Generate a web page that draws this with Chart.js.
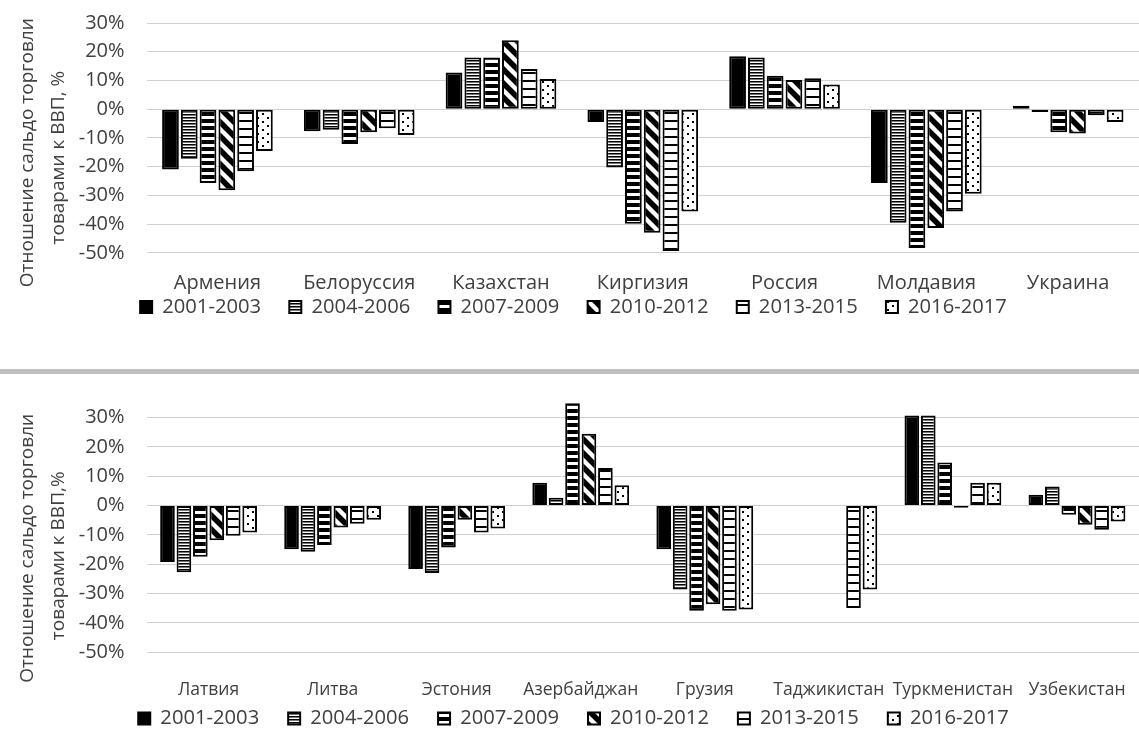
<!DOCTYPE html>
<html>
<head>
<meta charset="utf-8">
<script src="https://cdn.jsdelivr.net/npm/chart.js@4.4.1/dist/chart.umd.min.js"></script>
<style>
  body { margin: 0; background: #fff; overflow: hidden; }
  canvas { display: block; }
  .sep { height: 5px; background: #bfbfbf; }
</style>
</head>
<body>
<canvas id="topChart" width="1139" height="369"></canvas>
<div class="sep"></div>
<canvas id="bottomChart" width="1139" height="366"></canvas>
<script>
const periods = ["2001-2003", "2004-2006", "2007-2009", "2010-2012", "2013-2015", "2016-2017"];

// upper chart
const topCountries = ["Армения", "Белоруссия", "Казахстан", "Киргизия", "Россия", "Молдавия", "Украина"];
const top0103 = [-21.0, -7.7, 12.8, -4.5, 18.4, -25.7, 1.2];
const top0406 = [-17.3, -7.2, 18.0, -20.3, 18.0, -39.5, -1.0];
const top0709 = [-25.7, -12.1, 18.0, -39.9, 11.6, -48.3, -8.0];
const top1012 = [-28.2, -8.0, 24.0, -43.0, 10.2, -41.4, -8.5];
const top1315 = [-21.6, -6.6, 14.0, -49.4, 10.8, -35.6, -2.1];
const top1617 = [-14.6, -9.0, 10.5, -35.6, 8.6, -29.4, -4.5];

// lower chart
const bottomCountries = ["Латвия", "Литва", "Эстония", "Азербайджан", "Грузия", "Таджикистан", "Туркменистан", "Узбекистан"];
const bot0103 = [-19.2, -14.9, -21.6, 7.8, -14.9, null, 30.7, 3.7];
const bot0406 = [-22.7, -15.7, -23.0, 2.7, -28.6, null, 30.7, 6.5];
const bot0709 = [-17.4, -13.4, -14.3, 34.9, -35.8, null, 14.7, -3.1];
const bot1012 = [-11.8, -7.5, -4.8, 24.5, -33.6, null, -0.7, -6.5];
const bot1315 = [-10.3, -6.2, -9.2, 12.8, -35.8, -34.9, 7.8, -8.2];
const bot1617 = [-9.2, -4.8, -7.8, 6.9, -35.4, -28.6, 7.8, -5.4];

const yTicks = [30, 20, 10, 0, -10, -20, -30, -40, -50];

const FONT = "'Open Sans', sans-serif";
const TEXT = "#404040";

// hatch fills
function makePattern(w, h, draw) {
  const c = document.createElement("canvas");
  c.width = w;
  c.height = h;
  const g = c.getContext("2d");
  g.fillStyle = "#fff";
  g.fillRect(0, 0, w, h);
  g.fillStyle = "#000";
  g.strokeStyle = "#000";
  draw(g, w, h);
  return c.getContext("2d").createPattern(c, "repeat");
}

const fills = [
  "#000",
  makePattern(4, 3, (g, w) => {
    g.fillRect(0, 0, w, 1);
    g.fillStyle = "#777";
    g.fillRect(0, 1, w, 1);
  }),
  makePattern(4, 7, (g, w) => g.fillRect(0, 0, w, 4)),
  makePattern(14, 14, (g) => {
    g.lineWidth = 5.5;
    g.beginPath();
    g.moveTo(-3, -3); g.lineTo(17, 17);
    g.moveTo(-3, 11); g.lineTo(3, 17);
    g.moveTo(11, -3); g.lineTo(17, 3);
    g.stroke();
  }),
  makePattern(4, 8, (g, w) => g.fillRect(0, 0, w, 2)),
  makePattern(10, 8, (g) => {
    g.fillRect(2, 1, 2, 2);
    g.fillRect(7, 5, 2, 2);
  }),
];

function makeDatasets(series) {
  return series.map((data, i) => ({
    label: periods[i],
    data: data,
    backgroundColor: fills[i],
    borderColor: "#000",
    borderWidth: 2,
    borderSkipped: false,
    categoryPercentage: 0.795,
    barPercentage: 0.89,
  }));
}

function pad(s, n) {
  return s + " ".repeat(n);
}

function makeChart(id, labels, series, opts) {
  return new Chart(document.getElementById(id), {
    type: "bar",
    data: { labels: labels, datasets: makeDatasets(series) },
    options: {
      responsive: false,
      animation: false,
      layout: { padding: opts.padding },
      scales: {
        x: {
          grid: { display: false, drawTicks: true, tickLength: opts.xGap },
          border: { display: false },
          ticks: {
            color: TEXT,
            font: { family: FONT, size: opts.xFont },
            padding: 0,
            autoSkip: false,
            maxRotation: 0,
            minRotation: 0,
          },
        },
        y: {
          min: -50,
          max: opts.max,
          border: { display: false },
          grid: { color: "#d0d0d0", drawTicks: true, tickLength: 22, tickColor: "rgba(0,0,0,0)" },
          afterBuildTicks: (axis) => {
            axis.ticks = yTicks.slice().reverse().map((v) => ({ value: v }));
          },
          ticks: {
            color: TEXT,
            font: { family: FONT, size: 20 },
            padding: 0,
            autoSkip: false,
            callback: (v) => v + "%",
          },
          title: {
            display: true,
            text: opts.title,
            color: TEXT,
            font: { family: FONT, size: 19, lineHeight: 1.65 },
          },
        },
      },
      plugins: {
        tooltip: { enabled: false },
        legend: {
          position: "bottom",
          labels: {
            color: TEXT,
            font: { family: FONT, size: 20.2 },
            boxWidth: 12,
            boxHeight: 12,
            padding: opts.legendPad,
            generateLabels: (chart) => {
              const items = Chart.defaults.plugins.legend.labels.generateLabels(chart);
              items.forEach((it, i) => {
                if (i < items.length - 1) it.text = pad(it.text, opts.legendSpaces);
              });
              return items;
            },
          },
        },
      },
    },
  });
}

makeChart("topChart", topCountries, [top0103, top0406, top0709, top1012, top1315, top1617], {
  max: 30,
  padding: { top: 23, left: 8, right: 0, bottom: 42 },
  xFont: 20,
  xGap: 18,
  legendPad: 2,
  legendSpaces: 5,
  title: [pad("Отношение сальдо торговли", 6), pad("товарами к ВВП, %", 8)],
});

makeChart("bottomChart", bottomCountries, [bot0103, bot0406, bot0709, bot1012, bot1315, bot1617], {
  max: 36,
  padding: { top: 26, left: 8, right: 0, bottom: 1.5 },
  xFont: 17.5,
  xGap: 27,
  legendPad: 8,
  legendSpaces: 4,
  title: [pad("Отношение сальдо торговли", 9), pad("товарами к ВВП,%", 12)],
});
</script>
</body>
</html>
